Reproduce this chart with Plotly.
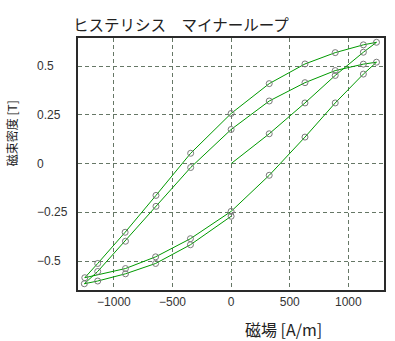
import plotly.graph_objects as go

# Magnetic field H [A/m] and flux density B [T] along the measured path
H = [0, 325, 630, 888, 1128, 1240,
     1128, 888, 630, 325, 0, -345, -641, -904, -1138, -1248,
     -901, -644, -347, 0, 325, 630, 888, 1128, 1240,
     1128, 888, 630, 325, 0, -345, -641, -901, -1138, -1252,
     -1138, -901, -644, -347, 0]
B = [0.0, 0.153, 0.311, 0.452, 0.571, 0.622,
     0.609, 0.569, 0.511, 0.410, 0.257, 0.053, -0.163, -0.352, -0.512, -0.585,
     -0.538, -0.478, -0.385, -0.245, -0.060, 0.136, 0.311, 0.459, 0.520,
     0.510, 0.477, 0.415, 0.321, 0.175, -0.020, -0.219, -0.398, -0.553, -0.616,
     -0.602, -0.565, -0.512, -0.416, -0.270]
marker_shown = [0] + [1] * (len(H) - 1)

x_ticks = [-1000, -500, 0, 500, 1000]
x_tick_text = ["−1000", "−500", "0", "500", "1000"]
y_ticks = [0.5, 0.25, 0, -0.25, -0.5]
y_tick_text = ["0.5", "0.25", "0", "−0.25", "−0.5"]

title_text = "ヒステリシス　マイナーループ"
x_title = "磁場 [A/m]"
y_title = "磁束密度 [T]"

fig = go.Figure()
fig.add_trace(go.Scatter(
    x=H, y=B, mode="lines+markers",
    line=dict(color="#009a00", width=1),
    marker=dict(symbol="circle-open", size=6, color="#7a7a7a",
                opacity=marker_shown, line=dict(width=1, color="#7a7a7a")),
    showlegend=False, hoverinfo="x+y",
))

axis_common = dict(showline=True, linecolor="#2a2a2a", linewidth=2, mirror=True,
                   showgrid=True, gridcolor="#667766", griddash="4px,3px", gridwidth=1,
                   zeroline=False, ticks="")
fig.update_xaxes(range=[-1306, 1304], tickvals=x_ticks, ticktext=x_tick_text,
                 tickfont=dict(family="Liberation Sans, Arial", size=12, color="#333"),
                 **axis_common)
fig.update_yaxes(range=[-0.648, 0.644], tickvals=y_ticks, showticklabels=False,
                 **axis_common)

annotations = []
for v, t in zip(y_ticks, y_tick_text):
    annotations.append(dict(x=0, xref="paper", xshift=-43, y=v, yref="y",
                            text=t, showarrow=False, xanchor="left", yanchor="middle",
                            font=dict(family="Liberation Sans, Arial", size=12, color="#333")))
annotations.append(dict(x=450, xref="x", y=0, yref="paper", yshift=-39,
                        text=x_title, showarrow=False, xanchor="center", yanchor="middle",
                        font=dict(family="Noto Sans CJK JP", size=16, color="#222")))
annotations.append(dict(x=0, xref="paper", xshift=-67, y=0.156, yref="y",
                        text=y_title, showarrow=False, textangle=-90,
                        xanchor="center", yanchor="middle",
                        font=dict(family="Noto Sans CJK JP", size=12, color="#222")))
annotations.append(dict(x=0, xref="paper", xshift=-7, y=1, yref="paper", yshift=1,
                        text=title_text, showarrow=False, xanchor="left", yanchor="bottom",
                        font=dict(family="Noto Sans CJK JP", size=15.5, color="#222")))

fig.update_layout(
    width=395, height=341,
    margin=dict(l=78, r=9, t=38, b=51),
    paper_bgcolor="white", plot_bgcolor="white",
    annotations=annotations,
)
fig.write_html("out.html")
